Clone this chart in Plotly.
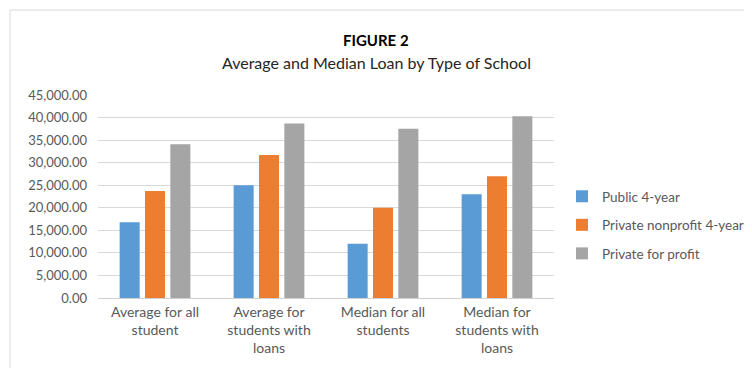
import plotly.graph_objects as go

categories = ["Average for all<br>student", "Average for<br>students with<br>loans",
              "Median for all<br>students", "Median for<br>students with<br>loans"]
series_names = ["Public 4-year", "Private nonprofit 4-year", "Private for profit"]
public_4yr = [16800, 25000, 12000, 23000]
private_nonprofit = [23700, 31700, 20000, 27000]
private_forprofit = [34100, 38700, 37500, 40300]
colors = ["#5b9bd5", "#ed7d31", "#a5a5a5"]
tick_vals = [0, 5000, 10000, 15000, 20000, 25000, 30000, 35000, 40000, 45000]

fig = go.Figure()
for i, (name, vals) in enumerate(zip(series_names, [public_4yr, private_nonprofit, private_forprofit])):
    fig.add_trace(go.Bar(x=categories, y=vals, name=name, marker_color=colors[i],
                         marker_line_width=0, legendgroup=str(i)))

# page body has an 8px margin; target coordinates below are in window pixels
OFF = 8
W, H = 752 - OFF, 368 - OFF
L, T = 98 - OFF, 95 - OFF
R, B = W - (554 - OFF), H - (298 - OFF)
pw, ph = W - L - R, H - T - B

def px(x):
    return (x - OFF - L) / pw

def py(y):
    return (H - B - (y - OFF)) / ph

fig.update_layout(
    width=W, height=H,
    margin=dict(l=L, r=R, t=T, b=B, autoexpand=False),
    paper_bgcolor="white", plot_bgcolor="white",
    font=dict(family="Lato, Calibri, sans-serif", size=13, color="#595959"),
    barmode="group", bargap=0.333, bargroupgap=0.21,
    showlegend=True,
    legend=dict(x=px(562), y=py(225), xanchor="left", yanchor="middle",
                font=dict(size=13.5, color="#595959"), tracegroupgap=8,
                bgcolor="rgba(0,0,0,0)"),
    xaxis=dict(showgrid=False, showline=True, linecolor="#d0d0d0", linewidth=1,
               ticks="", automargin=False, ticklabelstandoff=1,
               tickfont=dict(size=14, color="#595959")),
    yaxis=dict(range=[0, 45000], tickvals=tick_vals, tickformat=",.2f",
               showgrid=True, gridcolor="#d9d9d9", gridwidth=1,
               zeroline=False, showline=False, ticks="", automargin=False,
               ticklabelstandoff=10,
               tickfont=dict(size=13, color="#595959")),
    shapes=[dict(type="rect", xref="paper", yref="paper",
                 x0=px(10), x1=px(765), y0=py(380), y1=py(10),
                 line=dict(color="#d9d9d9", width=1), fillcolor="rgba(0,0,0,0)", layer="below")],
    annotations=[
        dict(text="<b>FIGURE 2</b>", xref="paper", yref="paper", x=px(376), y=py(40),
             xanchor="center", yanchor="middle", showarrow=False,
             font=dict(size=15, color="#000000")),
        dict(text="Average and Median Loan by Type of School", xref="paper", yref="paper",
             x=px(376), y=py(62), xanchor="center", yanchor="middle", showarrow=False,
             font=dict(size=16, color="#262626")),
    ],
)

fig.write_html("out.html")
